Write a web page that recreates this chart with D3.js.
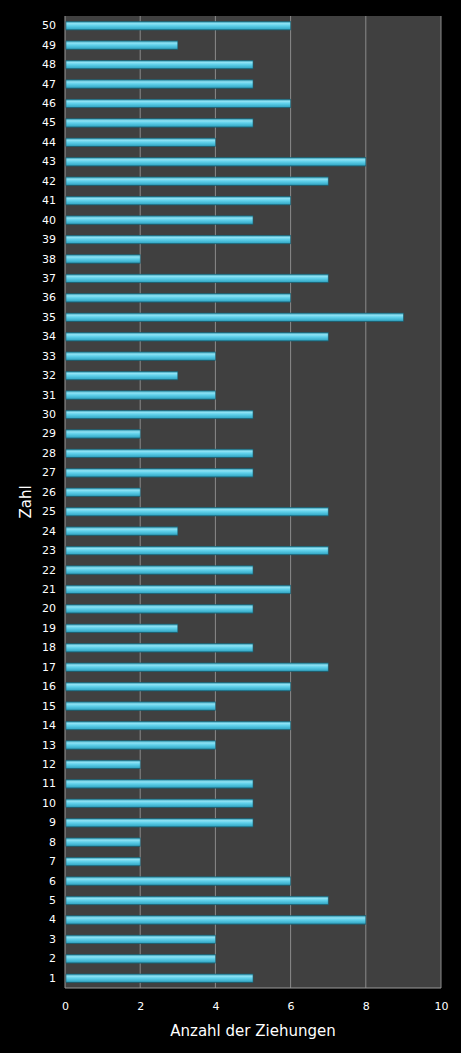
<!DOCTYPE html><html><head><meta charset="utf-8"><script src="https://cdn.jsdelivr.net/npm/d3@7"></script>
<style>body{margin:0;background:#000}</style></head><body><svg id="c" width="461" height="1053"></svg><script>
const categories=d3.range(1,51).map(String);
const values=[5,4,4,8,7,6,2,2,5,5,5,2,4,6,4,6,7,5,3,5,6,5,7,3,7,2,5,5,2,5,4,3,4,7,9,6,7,2,6,5,6,7,8,4,5,6,5,5,3,6];
const xTicks=[0,2,4,6,8,10];
const svg=d3.select("#c");
const m={l:65,r:441,t:16,b:988};
const x=d3.scaleLinear().domain([0,10]).range([m.l,m.r]);
const y=d3.scaleBand().domain(categories.slice().reverse()).range([m.t,m.b]).paddingInner(0.56).paddingOuter(0.28);
svg.append("rect").attr("width",461).attr("height",1053).attr("fill","#000");
svg.append("rect").attr("x",m.l).attr("y",m.t).attr("width",m.r-m.l).attr("height",m.b-m.t).attr("fill","#404040");
const defs=svg.append("defs");
const g=defs.append("linearGradient").attr("id","bg").attr("x1",0).attr("x2",0).attr("y1",0).attr("y2",1);
[[0,"#2a8fa8"],[0.25,"#8fe3f5"],[0.5,"#5fd0ea"],[0.85,"#3aaecb"],[1,"#1d6f85"]].forEach(([o,c])=>g.append("stop").attr("offset",o).attr("stop-color",c));
svg.append("g").selectAll("line").data(xTicks.slice(1)).join("line").attr("x1",d=>x(d)).attr("x2",d=>x(d)).attr("y1",m.t).attr("y2",m.b).attr("stroke","#8a8a8a").attr("stroke-width",1);
svg.append("line").attr("x1",m.l).attr("x2",m.l).attr("y1",m.t).attr("y2",m.b).attr("stroke","#9a9a9a");
svg.append("line").attr("x1",m.l).attr("x2",m.r).attr("y1",m.b).attr("y2",m.b).attr("stroke","#9a9a9a");
svg.append("g").selectAll("rect").data(values).join("rect").attr("x",x(0)+1).attr("y",(d,i)=>y(categories[i])).attr("width",d=>x(d)-x(0)-1).attr("height",y.bandwidth()).attr("fill","url(#bg)").attr("stroke","#1a5f70").attr("stroke-width",0.6);
const ya=svg.append("g").attr("transform",`translate(${m.l},0)`).call(d3.axisLeft(y).tickSize(0).tickPadding(9));
ya.select(".domain").remove();
ya.selectAll("text").attr("fill","#fff").style("font-family","Verdana, DejaVu Sans, sans-serif").style("font-size","11px");
const xa=svg.append("g").attr("transform",`translate(0,${m.b})`).call(d3.axisBottom(x).tickValues(xTicks).tickSize(0).tickPadding(14));
xa.select(".domain").remove();
xa.selectAll("text").attr("fill","#fff").style("font-family","Verdana, DejaVu Sans, sans-serif").style("font-size","11px");
svg.append("text").attr("x",253).attr("y",1036).attr("text-anchor","middle").attr("fill","#fff").style("font-family","Verdana, DejaVu Sans, sans-serif").style("font-size","15px").text("Anzahl der Ziehungen");
svg.append("text").attr("transform","translate(31,502) rotate(-90)").attr("text-anchor","middle").attr("fill","#fff").style("font-family","Verdana, DejaVu Sans, sans-serif").style("font-size","15px").text("Zahl");
</script></body></html>
